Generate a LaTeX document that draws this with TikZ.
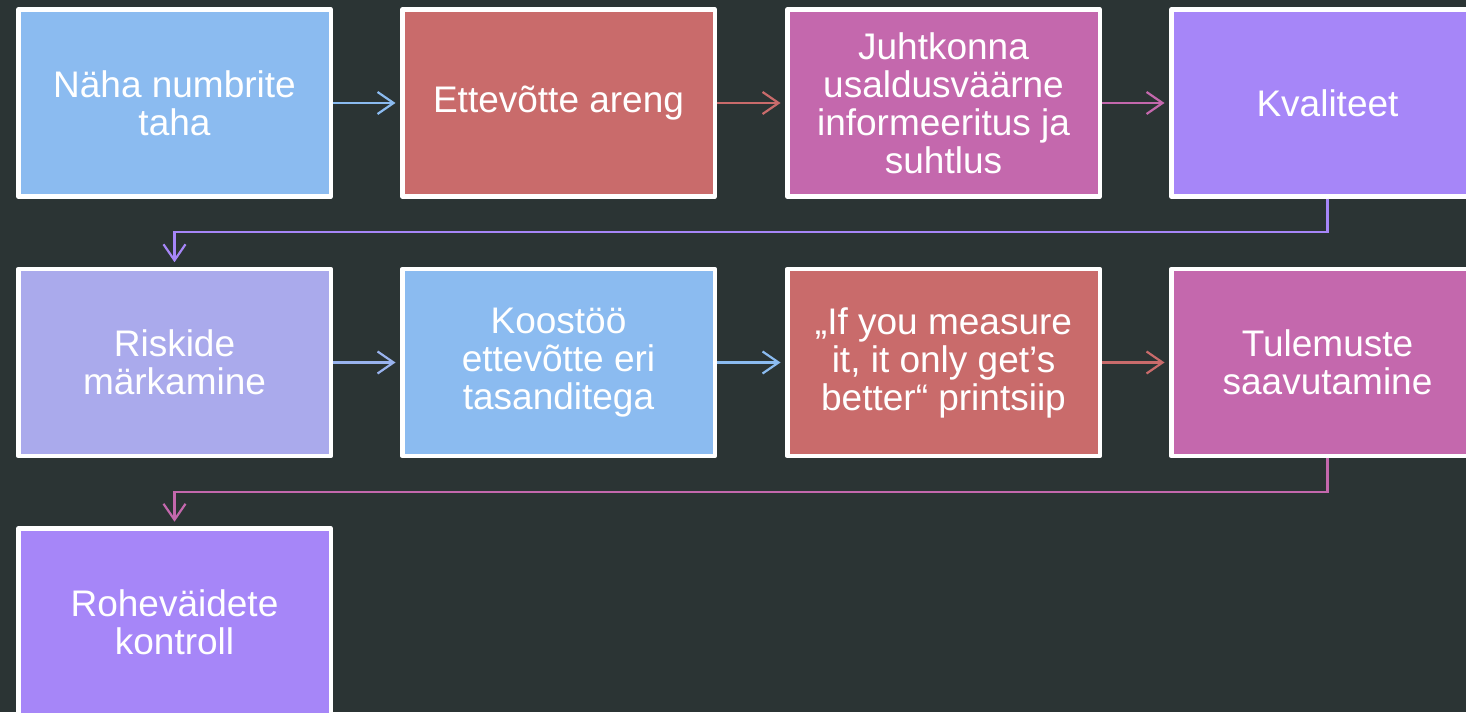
\documentclass[tikz,border=0pt]{standalone}
\usepackage{fontspec}
\setmainfont{Liberation Sans}
\usetikzlibrary{arrows.meta}

\definecolor{bg}{RGB}{43,52,52}
\definecolor{cblue}{RGB}{139,187,240}
\definecolor{cred}{RGB}{201,107,107}
\definecolor{cmag}{RGB}{196,104,173}
\definecolor{cpur}{RGB}{166,134,248}
\definecolor{clav}{RGB}{170,170,236}

\begin{document}
\begin{tikzpicture}[x=1pt,y=1pt,
  box/.style={draw=white,line width=4.5pt,line join=round,minimum width=312.5pt,
    minimum height=187pt,align=center,text=white,font=\fontsize{37}{38}\selectfont},
  link/.style={line width=2.2pt,-{Straight Barb[length=16pt,width=22pt,line width=2.2pt]},shorten >=4.5pt}]
  \useasboundingbox (0,0) rectangle (1466,712);
  \clip (0,0) rectangle (1466,712);
  \fill[bg] (0,0) rectangle (1466,712);

  \node (1) at (174.5,609) [box,fill=cblue] {Näha numbrite\\taha};
  \node (2) at (558.5,609) [box,fill=cred] {Ettevõtte areng};
  \node (3) at (943.5,609) [box,fill=cmag] {Juhtkonna\\usaldusväärne\\informeeritus ja\\suhtlus};
  \node (4) at (1327.5,609) [box,fill=cpur] {Kvaliteet};
  \node (5) at (174.5,349.5) [box,fill=clav] {Riskide\\märkamine};
  \node (6) at (558.5,349.5) [box,fill=cblue] {Koostöö\\ettevõtte eri\\tasanditega};
  \node (7) at (943.5,349.5) [box,fill=cred] {„If you measure\\it, it only get’s\\better“ printsiip};
  \node (8) at (1327.5,349.5) [box,fill=cmag] {Tulemuste\\saavutamine};
  \node (9) at (174.5,90) [box,fill=cpur] {Roheväidete\\kontroll};

  \draw[link,cblue] (1) -- (2);
  \draw[link,cred] (2) -- (3);
  \draw[link,cmag] (3) -- (4);
  \draw[link,cpur] (4.south) -- ++(0,-33.5) -| (5.north);
  \draw[link,cblue!55!clav] (5) -- (6);
  \draw[link,cblue] (6) -- (7);
  \draw[link,cred] (7) -- (8);
  \draw[link,cmag] (8.south) -- ++(0,-33.5) -| (9.north);
\end{tikzpicture}
\end{document}
